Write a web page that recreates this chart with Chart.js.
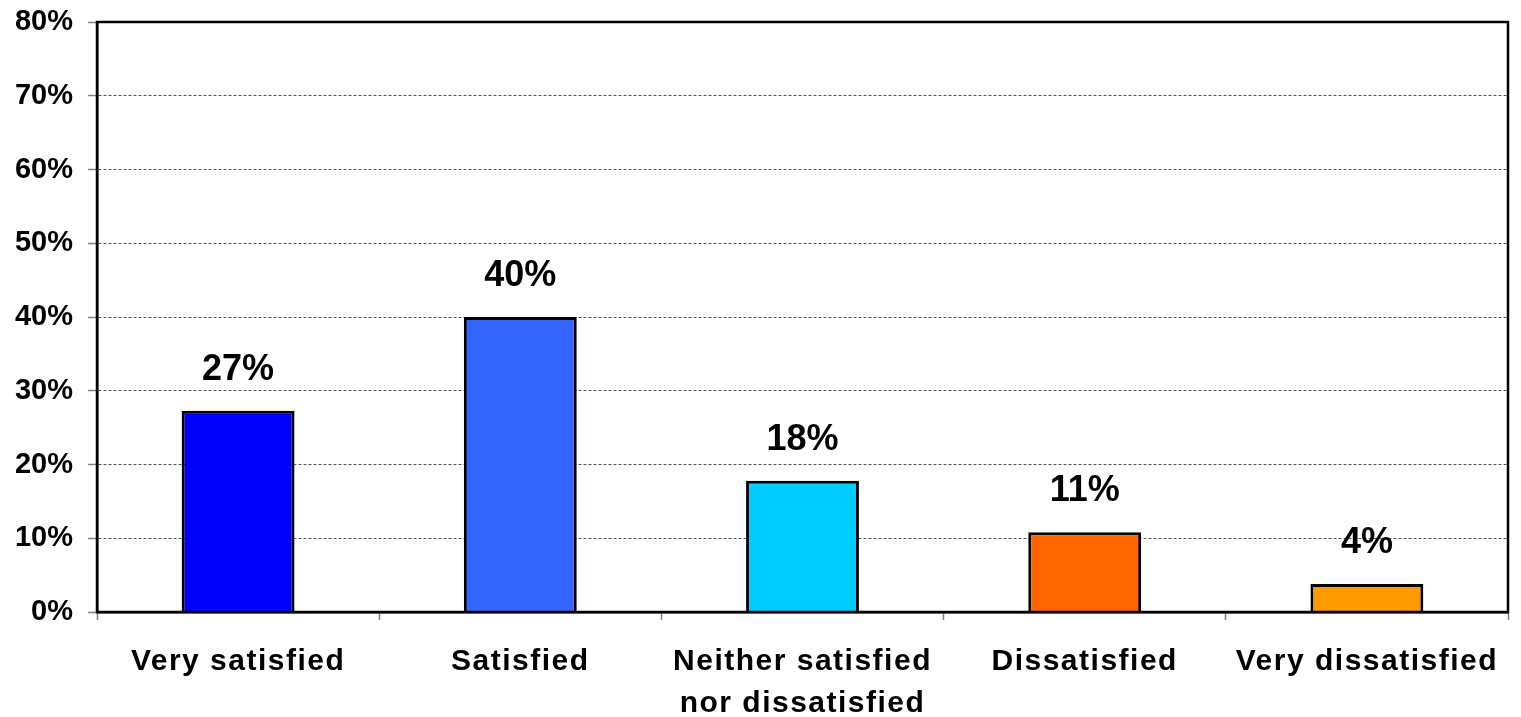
<!DOCTYPE html>
<html>
<head>
<meta charset="utf-8">
<script src="https://cdn.jsdelivr.net/npm/chart.js@4/dist/chart.umd.min.js"></script>
<style>
  html, body { margin: 0; padding: 0; background: #fff; }
  #wrap { width: 1521px; height: 717px; }
</style>
</head>
<body>
<div id="wrap"><canvas id="satChart"></canvas></div>
<script>
// Chart data
const categories = ['Very satisfied', 'Satisfied', ['Neither satisfied', 'nor dissatisfied'], 'Dissatisfied', 'Very dissatisfied'];
const percentValues = [27.3, 40.0, 17.8, 10.8, 3.8];
const barColors = ['#0000FF', '#3366FF', '#00CCFF', '#FF6600', '#FF9900'];
const yTicks = [0, 10, 20, 30, 40, 50, 60, 70, 80];

const FONT = "'Liberation Sans', Arial, sans-serif";

// value labels above each bar
const valueLabels = {
    id: 'valueLabels',
    afterDatasetsDraw(chart) {
        const ctx = chart.ctx;
        const meta = chart.getDatasetMeta(0);
        ctx.save();
        ctx.font = 'bold 36px ' + FONT;
        ctx.fillStyle = '#000';
        ctx.textAlign = 'center';
        ctx.textBaseline = 'middle';
        meta.data.forEach((bar, i) => {
            ctx.fillText(Math.round(percentValues[i]) + '%', bar.x, bar.y - 41);
        });
        ctx.restore();
    }
};

// black frame around the plot area
const plotFrame = {
    id: 'plotFrame',
    afterDraw(chart) {
        const a = chart.chartArea;
        const ctx = chart.ctx;
        ctx.save();
        ctx.strokeStyle = '#000';
        ctx.lineWidth = 2.5;
        ctx.strokeRect(a.left, a.top, a.right - a.left, a.bottom - a.top);
        ctx.restore();
    }
};

// a bit of letter spacing for the category labels only
const spacedLabels = {
    id: 'spacedLabels',
    afterLayout(chart) {
        const s = chart.scales.x;
        if (s._spaced) return;
        const orig = s.drawLabels.bind(s);
        s.drawLabels = function (area) {
            this.ctx.save();
            this.ctx.letterSpacing = '1.5px';
            orig(area);
            this.ctx.restore();
        };
        s._spaced = true;
    }
};

const ctx = document.getElementById('satChart').getContext('2d');
const satChart = new Chart(ctx, {
    type: 'bar',
    data: {
        labels: categories,
        datasets: [{
            data: percentValues,
            backgroundColor: barColors,
            borderColor: '#000',
            borderWidth: 3,
            barPercentage: 0.4,
            categoryPercentage: 1.0
        }]
    },
    options: {
        responsive: true,
        maintainAspectRatio: false,
        animation: false,
        layout: { padding: { top: 22, right: 13, left: 0, bottom: 0 } },
        plugins: {
            legend: { display: false },
            tooltip: { enabled: false }
        },
        scales: {
            x: {
                grid: {
                    drawOnChartArea: false,
                    offset: true,
                    tickLength: 8,
                    tickColor: '#808080',
                    tickWidth: 1.5
                },
                border: { color: '#000', width: 2.5 },
                ticks: {
                    autoSkip: false,
                    maxRotation: 0,
                    minRotation: 0,
                    padding: 21,
                    color: '#000',
                    font: { family: FONT, size: 30, weight: 'bold', lineHeight: 1.4 }
                },
                afterFit(scale) { scale.height = 105; }
            },
            y: {
                min: 0,
                max: 80,
                afterBuildTicks(scale) { scale.ticks = yTicks.map(v => ({ value: v })); },
                grid: {
                    color: '#555',
                    lineWidth: 1,
                    tickLength: 9,
                    tickColor: '#808080',
                    tickWidth: 1.5
                },
                border: { color: '#000', width: 2.5, dash: [3, 2] },
                ticks: {
                    padding: 15,
                    color: '#000',
                    font: { family: FONT, size: 29, weight: 'bold' },
                    callback: v => v + '%'
                },
                afterFit(scale) {
                    scale.width = 97;
                    scale.paddingTop = 0;
                    scale.paddingBottom = 0;
                }
            }
        }
    },
    plugins: [valueLabels, plotFrame, spacedLabels]
});
</script>
</body>
</html>
